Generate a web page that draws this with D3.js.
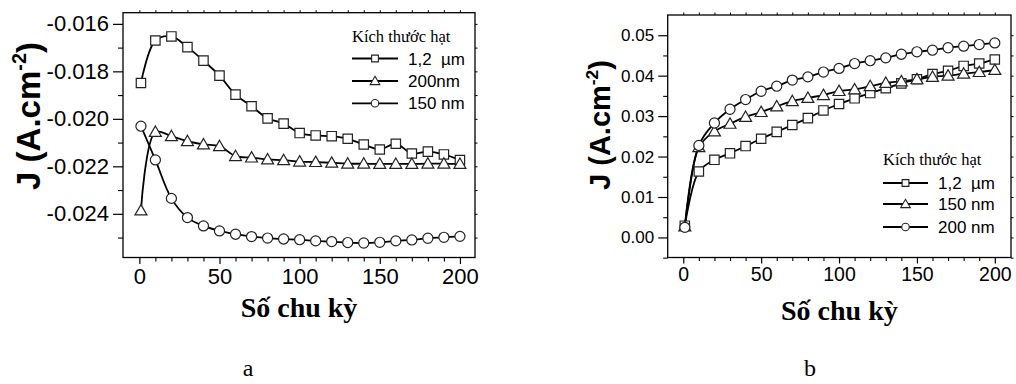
<!DOCTYPE html>
<html>
<head>
<meta charset="utf-8">
<script src="https://cdn.jsdelivr.net/npm/d3@7"></script>
<style>
  html, body { margin: 0; padding: 0; background: #fff; }
  svg { display: block; }
</style>
</head>
<body>
<svg id="chart" width="1016" height="384"></svg>
<script>
// ---------------- DATA ----------------
const cycles = [1, 10, 20, 30, 40, 50, 60, 70, 80, 90, 100, 110, 120, 130, 140, 150, 160, 170, 180, 190, 200];

// Panel a
const a_12um  = [-0.01849, -0.01670, -0.01653, -0.01698, -0.01755, -0.01818, -0.01898, -0.01947, -0.01998, -0.02020, -0.02060,
                 -0.02070, -0.02073, -0.02084, -0.02108, -0.02129, -0.02105, -0.02146, -0.02138, -0.02150, -0.02174];
const a_200nm = [-0.02386, -0.02055, -0.02073, -0.02094, -0.02108, -0.02115, -0.02157, -0.02163, -0.02171, -0.02174, -0.02180,
                 -0.02182, -0.02185, -0.02189, -0.02189, -0.02190, -0.02190, -0.02190, -0.02189, -0.02189, -0.02190];
const a_150nm = [-0.02031, -0.02173, -0.02335, -0.02416, -0.02451, -0.02472, -0.02486, -0.02496, -0.02502, -0.02506, -0.02509,
                 -0.02514, -0.02517, -0.02521, -0.02523, -0.02520, -0.02514, -0.02510, -0.02503, -0.02499, -0.02495];

// Panel b
const b_12um  = [0.0029, 0.0163, 0.0192, 0.0208, 0.0226, 0.0244, 0.0261, 0.0278, 0.0295, 0.0314, 0.0330,
                 0.0344, 0.0357, 0.0369, 0.0381, 0.0391, 0.0404, 0.0412, 0.0424, 0.0430, 0.0440];
const b_150nm = [0.0027, 0.0223, 0.0262, 0.0281, 0.0298, 0.0310, 0.0324, 0.0337, 0.0345, 0.0352, 0.0362,
                 0.0366, 0.0374, 0.0382, 0.0386, 0.0391, 0.0397, 0.0400, 0.0405, 0.0409, 0.0414];
const b_200nm = [0.0025, 0.02275, 0.0283, 0.0317, 0.0341, 0.03615, 0.0374, 0.0389, 0.0397, 0.0409, 0.0418,
                 0.0430, 0.0437, 0.0444, 0.0453, 0.0459, 0.0463, 0.0469, 0.0473, 0.0477, 0.0481];

const xTicks = [0, 50, 100, 150, 200];
const aYTicks = [-0.016, -0.018, -0.020, -0.022, -0.024];
const bYTicks = [0.00, 0.01, 0.02, 0.03, 0.04, 0.05];

const legendTitle = "Kích thước hạt";
const aLegend = ["1,2\u00a0\u00a0µm", "200nm", "150 nm"];
const bLegend = ["1,2\u00a0\u00a0µm", "150 nm", "200 nm"];
const xTitle = "Số chu kỳ";
const panelLetters = ["a", "b"];

// ---------------- DRAW ----------------
const svg = d3.select("#chart");
const hyphenFmt = spec => { const f = d3.format(spec); return v => f(v).replace("\u2212", "-"); };

function drawPanel(cfg) {
  const g = svg.append("g");
  const x = d3.scaleLinear().domain(cfg.xDomain).range([cfg.left, cfg.right]);
  const y = d3.scaleLinear().domain(cfg.yDomain).range([cfg.bottom, cfg.top]);

  // frame
  g.append("rect")
    .attr("x", cfg.left).attr("y", cfg.top)
    .attr("width", cfg.right - cfg.left).attr("height", cfg.bottom - cfg.top)
    .attr("fill", "none").attr("stroke", "#000").attr("stroke-width", 1.3);

  // x axis (bottom)
  const xMinor = d3.range(0, 201, 10);
  const xAxis = d3.axisBottom(x).tickValues(xTicks).tickSize(cfg.xMajor).tickSizeOuter(0).tickPadding(4)
    .tickFormat(d3.format("d"));
  const xa = g.append("g").attr("transform", `translate(0,${cfg.bottom})`).call(xAxis);
  xa.select(".domain").remove();
  xa.selectAll(".tick line").attr("stroke-width", 1.2);
  xa.selectAll("text").style("font-size", cfg.xTickFont + "px").attr("fill", "#000")
    .attr("font-family", "Liberation Sans, Arial, sans-serif");
  g.append("g").attr("transform", `translate(0,${cfg.bottom})`)
    .call(d3.axisBottom(x).tickValues(xMinor.filter(v => !xTicks.includes(v))).tickSize(cfg.xMinor).tickSizeOuter(0).tickFormat(""))
    .call(s => s.select(".domain").remove())
    .selectAll(".tick line").attr("stroke-width", 1.1);
  // top mirror ticks
  g.append("g").attr("transform", `translate(0,${cfg.top})`)
    .call(d3.axisTop(x).tickValues(xMinor).tickSize(2.5).tickSizeOuter(0).tickFormat(""))
    .call(s => s.select(".domain").remove())
    .selectAll(".tick line").attr("stroke-width", 1);

  // y axis (left)
  const ya = g.append("g").attr("transform", `translate(${cfg.left},0)`)
    .call(d3.axisLeft(y).tickValues(cfg.yTicks).tickSize(cfg.yMajor).tickSizeOuter(0).tickPadding(4)
      .tickFormat(cfg.yFormat));
  ya.select(".domain").remove();
  ya.selectAll(".tick line").attr("stroke-width", 1.2);
  ya.selectAll("text").style("font-size", cfg.yTickFont + "px").attr("fill", "#000")
    .attr("font-family", "Liberation Sans, Arial, sans-serif");
  g.append("g").attr("transform", `translate(${cfg.left},0)`)
    .call(d3.axisLeft(y).tickValues(cfg.yMinorTicks).tickSize(cfg.yMinor).tickSizeOuter(0).tickFormat(""))
    .call(s => s.select(".domain").remove())
    .selectAll(".tick line").attr("stroke-width", 1.1);
  // right mirror ticks
  g.append("g").attr("transform", `translate(${cfg.right},0)`)
    .call(d3.axisRight(y).tickValues(cfg.yTicks.concat(cfg.yMinorTicks)).tickSize(2.5).tickSizeOuter(0).tickFormat(""))
    .call(s => s.select(".domain").remove())
    .selectAll(".tick line").attr("stroke-width", 1);

  // y title
  const yt = g.append("text")
    .attr("transform", `translate(${cfg.yTitleX},${cfg.yTitleY}) rotate(-90)`)
    .attr("text-anchor", "middle")
    .attr("font-family", "Liberation Sans, Arial, sans-serif")
    .attr("font-weight", "bold")
    .attr("font-size", cfg.yTitleFont)
    .attr("fill", "#000");
  yt.append("tspan").text("J (A.cm");
  yt.append("tspan").text("-2").attr("font-size", cfg.yTitleFont * 0.6).attr("dy", -cfg.yTitleFont * 0.42);
  yt.append("tspan").text(")").attr("dy", cfg.yTitleFont * 0.42);

  // x title
  g.append("text")
    .attr("x", (cfg.left + cfg.right) / 2).attr("y", cfg.xTitleY)
    .attr("text-anchor", "middle")
    .attr("font-family", "Liberation Serif, Times New Roman, serif")
    .attr("font-weight", "bold")
    .attr("font-size", cfg.xTitleFont)
    .attr("fill", "#000")
    .text(xTitle);

  // panel letter
  g.append("text")
    .attr("x", cfg.letterX).attr("y", 376)
    .attr("text-anchor", "middle")
    .attr("font-family", "Liberation Serif, Times New Roman, serif")
    .attr("font-size", 24)
    .attr("fill", "#000")
    .text(cfg.letter);

  // series
  const line = d3.line().x((d, i) => x(cycles[i])).y(d => y(d)).curve(d3.curveCatmullRom.alpha(0.5));
  cfg.series.forEach(s => {
    g.append("path").datum(s.values)
      .attr("d", line)
      .attr("fill", "none").attr("stroke", "#000").attr("stroke-width", 1.8);
  });
  cfg.series.forEach(s => {
    const sym = d3.symbol().type(s.symbol).size(s.size);
    g.selectAll(null).data(s.values).enter().append("path")
      .attr("d", sym)
      .attr("transform", (d, i) => `translate(${x(cycles[i])},${y(d) + (s.symbol === d3.symbolTriangle ? 1 : 0)})`)
      .attr("fill", "#fff").attr("stroke", "#222").attr("stroke-width", 1.2);
  });

  // legend
  const lg = g.append("g");
  lg.append("text")
    .attr("x", cfg.legX0).attr("y", cfg.legTitleY)
    .attr("font-family", "Liberation Serif, Times New Roman, serif")
    .attr("font-size", 16.5).attr("fill", "#000")
    .text(legendTitle);
  cfg.series.forEach((s, i) => {
    const yy = cfg.legRowY[i];
    lg.append("line")
      .attr("x1", cfg.legX0).attr("x2", cfg.legX1).attr("y1", yy).attr("y2", yy)
      .attr("stroke", "#000").attr("stroke-width", 1.8);
    lg.append("path")
      .attr("d", d3.symbol().type(s.symbol).size(s.legSize))
      .attr("transform", `translate(${(cfg.legX0 + cfg.legX1) / 2},${yy + (s.symbol === d3.symbolTriangle ? 0.8 : 0)})`)
      .attr("fill", "#fff").attr("stroke", "#222").attr("stroke-width", 1.1);
    lg.append("text")
      .attr("x", cfg.legTextX).attr("y", yy + 6)
      .attr("font-family", "Liberation Sans, Arial, sans-serif")
      .attr("font-size", 17).attr("fill", "#000")
      .text(s.label);
  });
}

drawPanel({
  left: 123, right: 475, top: 12.7, bottom: 257.5,
  xDomain: [-10.2, 209.4], yDomain: [-0.02584, -0.01553],
  yTicks: aYTicks, yMinorTicks: [-0.017, -0.019, -0.021, -0.023, -0.025],
  yFormat: hyphenFmt(".3f"),
  xMajor: 6.5, xMinor: 4, yMajor: 10, yMinor: 5,
  xTickFont: 22, yTickFont: 22,
  yTitleX: 40, yTitleY: 116, yTitleFont: 33,
  xTitleY: 317, xTitleFont: 28,
  letter: panelLetters[0], letterX: 248,
  series: [
    { values: a_12um,  symbol: d3.symbolSquare,   size: 88, legSize: 46, label: aLegend[0] },
    { values: a_200nm, symbol: d3.symbolTriangle, size: 62, legSize: 40, label: aLegend[1] },
    { values: a_150nm, symbol: d3.symbolCircle,   size: 80, legSize: 44, label: aLegend[2] }
  ],
  legX0: 352, legX1: 398, legTextX: 408, legTitleY: 41.5, legRowY: [58.5, 81, 103.3]
});

drawPanel({
  left: 667.7, right: 1011, top: 15, bottom: 257.5,
  xDomain: [-10, 210.4], yDomain: [-0.00496, 0.0550],
  yTicks: bYTicks, yMinorTicks: [-0.005, 0.005, 0.015, 0.025, 0.035, 0.045],
  yFormat: hyphenFmt(".2f"),
  xMajor: 6, xMinor: 3.5, yMajor: 9.5, yMinor: 4.5,
  xTickFont: 19.5, yTickFont: 17,
  yTitleX: 610, yTitleY: 125, yTitleFont: 29,
  xTitleY: 320, xTitleFont: 28,
  letter: panelLetters[1], letterX: 810,
  series: [
    { values: b_12um,  symbol: d3.symbolSquare,   size: 88, legSize: 46, label: bLegend[0] },
    { values: b_150nm, symbol: d3.symbolTriangle, size: 62, legSize: 40, label: bLegend[1] },
    { values: b_200nm, symbol: d3.symbolCircle,   size: 80, legSize: 44, label: bLegend[2] }
  ],
  legX0: 883, legX1: 928, legTextX: 938, legTitleY: 165, legRowY: [183, 204, 227]
});
</script>
</body>
</html>
